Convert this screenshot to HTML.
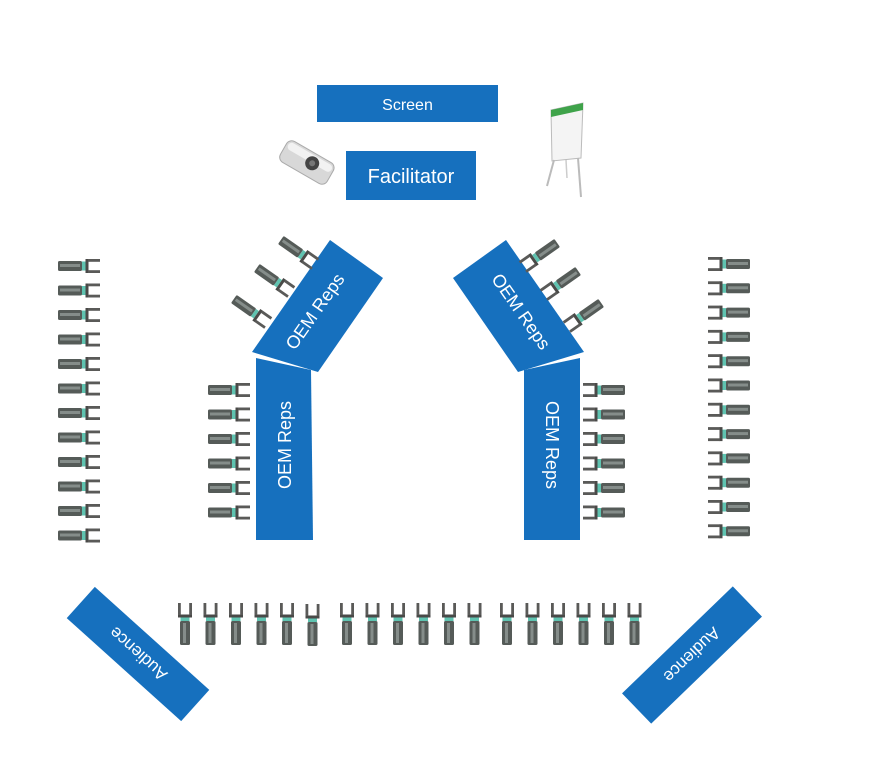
<!DOCTYPE html>
<html><head><meta charset="utf-8"><style>
html,body{margin:0;padding:0;background:#fff;}
svg{display:block;}
text{font-family:"Liberation Sans",sans-serif;fill:#fff;}
</style></head><body>
<svg width="875" height="776" viewBox="0 0 875 776" xmlns="http://www.w3.org/2000/svg">
<defs>
<g id="c">
<rect x="-21" y="-5" width="24" height="10" rx="1.5" fill="#555b58"/>
<rect x="-19" y="-2" width="20" height="3" fill="#858d8a"/>
<rect x="3" y="-4.5" width="3.5" height="9" fill="#5fc3b0"/>
<rect x="6.5" y="-7" width="3" height="14" fill="#4a4a48"/>
<rect x="9" y="-7" width="12" height="2.8" fill="#5a5a58"/>
<rect x="9" y="4.2" width="12" height="2.8" fill="#5a5a58"/>
</g>
</defs>
<rect x="317" y="85" width="181" height="37" fill="#1670be"/>
<text x="407.5" y="110" font-size="16" text-anchor="middle">Screen</text>
<rect x="346" y="151" width="130" height="49" fill="#1670be"/>
<text x="411" y="183" font-size="20" text-anchor="middle">Facilitator</text>
<g transform="rotate(30 306 162)">
<rect x="280" y="150" width="54" height="24" rx="6" fill="#d8d8d8" stroke="#aaa"/>
<rect x="282" y="152" width="50" height="8" rx="4" fill="#f2f2f2"/>
<circle cx="312" cy="160" r="7" fill="#444"/>
<circle cx="312" cy="160" r="3" fill="#777"/>
</g>
<polygon points="551,110 583,103 581,158 552,161" fill="#f4f4f4" stroke="#bbb"/>
<polygon points="551,110 583,103 583,110 551,117" fill="#3fa34a"/>
<line x1="554" y1="160" x2="547" y2="186" stroke="#bbb" stroke-width="2"/>
<line x1="578" y1="158" x2="581" y2="197" stroke="#bbb" stroke-width="2"/>
<line x1="566" y1="160" x2="567" y2="178" stroke="#ccc" stroke-width="1.5"/>
<polygon points="252,352 330,240 383,278 318,372" fill="#1670be"/>
<polygon points="256,358 311,370 313,540 256,540" fill="#1670be"/>
<text transform="translate(320,315) rotate(-55)" font-size="18" text-anchor="middle">OEM Reps</text>
<text transform="translate(291,445) rotate(-90)" font-size="18" text-anchor="middle">OEM Reps</text>
<polygon points="584,352 506,240 453,278 518,372" fill="#1670be"/>
<polygon points="580,358 524,370 524,540 580,540" fill="#1670be"/>
<text transform="translate(516,315) rotate(55)" font-size="18" text-anchor="middle">OEM Reps</text>
<text transform="translate(546,445) rotate(90)" font-size="18" text-anchor="middle">OEM Reps</text>
<g transform="translate(138,654) rotate(42)"><rect x="-77" y="-21" width="154" height="42" fill="#1670be"/></g>
<text transform="translate(138,654) rotate(222)" font-size="17" text-anchor="middle" dy="6">Audience</text>
<g transform="translate(692,655) rotate(-44)"><rect x="-77" y="-21" width="154" height="42" fill="#1670be"/></g>
<text transform="translate(692,655) rotate(136)" font-size="17" text-anchor="middle" dy="6">Audience</text>
<use href="#c" x="79" y="266"/><use href="#c" x="79" y="290.5"/><use href="#c" x="79" y="315"/><use href="#c" x="79" y="339.5"/>
<use href="#c" x="79" y="364"/><use href="#c" x="79" y="388.5"/><use href="#c" x="79" y="413"/><use href="#c" x="79" y="437.5"/>
<use href="#c" x="79" y="462"/><use href="#c" x="79" y="486.5"/><use href="#c" x="79" y="511"/><use href="#c" x="79" y="535.5"/>
<use href="#c" x="229" y="390"/><use href="#c" x="229" y="414.5"/><use href="#c" x="229" y="439"/>
<use href="#c" x="229" y="463.5"/><use href="#c" x="229" y="488"/><use href="#c" x="229" y="512.5"/>
<use href="#c" transform="translate(298,252) rotate(35)"/>
<use href="#c" transform="translate(274,280) rotate(35)"/>
<use href="#c" transform="translate(251,311) rotate(35)"/>
<use href="#c" transform="translate(540,255) rotate(145)"/>
<use href="#c" transform="translate(561,283) rotate(145)"/>
<use href="#c" transform="translate(584,315) rotate(145)"/>
<g transform="translate(1208,0) scale(-1,1)">
<use href="#c" x="604" y="390"/><use href="#c" x="604" y="414.5"/><use href="#c" x="604" y="439"/>
<use href="#c" x="604" y="463.5"/><use href="#c" x="604" y="488"/><use href="#c" x="604" y="512.5"/>
</g>
<g transform="translate(1458,0) scale(-1,1)">
<use href="#c" x="729" y="264"/><use href="#c" x="729" y="288.3"/><use href="#c" x="729" y="312.6"/><use href="#c" x="729" y="336.9"/>
<use href="#c" x="729" y="361.2"/><use href="#c" x="729" y="385.5"/><use href="#c" x="729" y="409.8"/><use href="#c" x="729" y="434.1"/>
<use href="#c" x="729" y="458.4"/><use href="#c" x="729" y="482.7"/><use href="#c" x="729" y="507"/><use href="#c" x="729" y="531.3"/>
</g>
<use href="#c" transform="translate(185,624) rotate(-90)"/><use href="#c" transform="translate(210.5,624) rotate(-90)"/><use href="#c" transform="translate(236,624) rotate(-90)"/>
<use href="#c" transform="translate(261.5,624) rotate(-90)"/><use href="#c" transform="translate(287,624) rotate(-90)"/><use href="#c" transform="translate(312.5,625) rotate(-90)"/>
<use href="#c" transform="translate(347,624) rotate(-90)"/><use href="#c" transform="translate(372.5,624) rotate(-90)"/><use href="#c" transform="translate(398,624) rotate(-90)"/>
<use href="#c" transform="translate(423.5,624) rotate(-90)"/><use href="#c" transform="translate(449,624) rotate(-90)"/><use href="#c" transform="translate(474.5,624) rotate(-90)"/>
<use href="#c" transform="translate(507,624) rotate(-90)"/><use href="#c" transform="translate(532.5,624) rotate(-90)"/><use href="#c" transform="translate(558,624) rotate(-90)"/>
<use href="#c" transform="translate(583.5,624) rotate(-90)"/><use href="#c" transform="translate(609,624) rotate(-90)"/><use href="#c" transform="translate(634.5,624) rotate(-90)"/>
</svg>
</body></html>
